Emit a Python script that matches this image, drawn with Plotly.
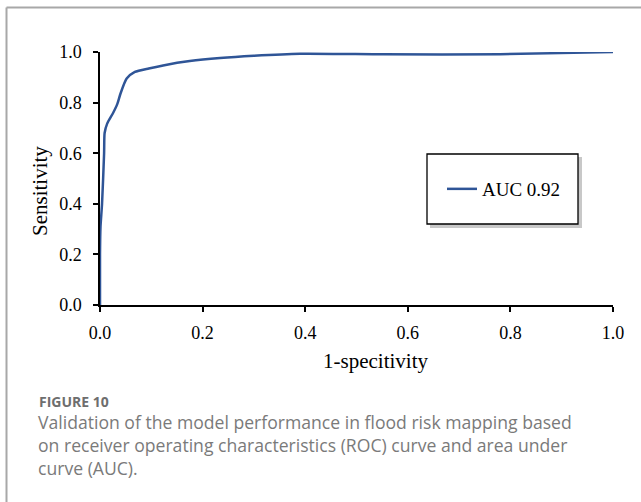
import plotly.graph_objects as go

# ROC curve values
fpr = [0.0, 0.0, 0.001, 0.004, 0.008, 0.009, 0.014, 0.025, 0.034, 0.040, 0.052, 0.068, 0.095, 0.123, 0.175, 0.234, 0.30, 0.39, 0.552, 0.78, 1.0]
tpr = [0.0, 0.20, 0.31, 0.40, 0.60, 0.68, 0.717, 0.757, 0.796, 0.836, 0.895, 0.921, 0.935, 0.947, 0.964, 0.976, 0.985, 0.993, 0.991, 0.991, 1.0]
series_name = "AUC 0.92"
tick_vals = [0.0, 0.2, 0.4, 0.6, 0.8, 1.0]
tick_text = ["0.0", "0.2", "0.4", "0.6", "0.8", "1.0"]
x_title = "1-specitivity"
y_title = "Sensitivity"
caption_head = "FIGURE 10"
caption_lines = [
    "Validation of the model performance in flood risk mapping based",
    "on receiver operating characteristics (ROC) curve and area under",
    "curve (AUC).",
]

W, H = 641, 502
L, R, T, B = 100, 28, 52, 197
pw, ph = W - L - R, H - T - B


def px(xp):
    return (xp - L) / pw


def py(yp):
    return (H - B - yp) / ph


serif = "Liberation Serif"

fig = go.Figure()
fig.add_trace(go.Scatter(
    x=fpr, y=tpr, mode="lines", name=series_name,
    line=dict(color="#2f5597", width=2.5, shape="spline", smoothing=0.6),
))

axis_common = dict(
    showgrid=False, zeroline=False, showline=True, linecolor="black", linewidth=1.5,
    ticks="outside", ticklen=5, tickwidth=1.5, tickcolor="black",
    tickfont=dict(family=serif, size=18, color="black"),
    tickvals=tick_vals, ticktext=tick_text,
)

fig.update_layout(
    width=W, height=H,
    margin=dict(l=L, r=R, t=T, b=B),
    paper_bgcolor="white", plot_bgcolor="white",
    xaxis=dict(range=[0, 1.0], ticklabelstandoff=6, **axis_common),
    yaxis=dict(range=[0, 1.0], ticklabelstandoff=8, **axis_common),
    showlegend=True,
    legend=dict(
        x=px(442), y=py(189), xanchor="left", yanchor="middle",
        bgcolor="rgba(0,0,0,0)", borderwidth=0,
        font=dict(family=serif, size=19, color="black"),
    ),
    shapes=[
        # outer frame
        dict(type="line", xref="paper", yref="paper", x0=px(6.5), x1=px(6.5), y0=py(520), y1=py(7.5),
             line=dict(color="#a8a8a8", width=2)),
        dict(type="line", xref="paper", yref="paper", x0=px(6.5), x1=px(660), y0=py(7.5), y1=py(7.5),
             line=dict(color="#a8a8a8", width=2)),
        # legend shadow and box
        dict(type="rect", xref="paper", yref="paper", x0=px(430), x1=px(582), y0=py(228), y1=py(157),
             fillcolor="#c8c8c8", line=dict(width=0), layer="below"),
        dict(type="rect", xref="paper", yref="paper", x0=px(427), x1=px(578), y0=py(224), y1=py(154),
             fillcolor="white", line=dict(color="black", width=1.3), layer="below"),
    ],
    annotations=[
        dict(text=y_title, xref="paper", yref="paper", x=px(40.5), y=py(191.5), textangle=-90,
             showarrow=False, xanchor="center", yanchor="middle",
             font=dict(family=serif, size=21, color="black")),
        dict(text=x_title, xref="paper", yref="paper", x=px(375), y=py(361),
             showarrow=False, xanchor="center", yanchor="middle",
             font=dict(family=serif, size=21, color="black")),
        dict(text="<b>" + caption_head + "</b>", xref="paper", yref="paper", x=px(37), y=py(401),
             showarrow=False, xanchor="left", yanchor="middle",
             font=dict(family="Open Sans", size=14, color="#6e6e6e")),
    ] + [
        dict(text=line, xref="paper", yref="paper", x=px(36), y=py(yc),
             showarrow=False, xanchor="left", yanchor="middle",
             font=dict(family="Open Sans", size=17.6, color="#7a7a7a"))
        for line, yc in zip(caption_lines, [421.5, 444.5, 467.5])
    ],
)

fig.write_html("out.html", config={"displayModeBar": False})

# remove the browser's default 8px page margin so the figure sits at (0, 0)
with open("out.html", "r", encoding="utf-8") as f:
    html = f.read()
html = html.replace("<body>", '<body style="margin:0;padding:0;">', 1)
with open("out.html", "w", encoding="utf-8") as f:
    f.write(html)
